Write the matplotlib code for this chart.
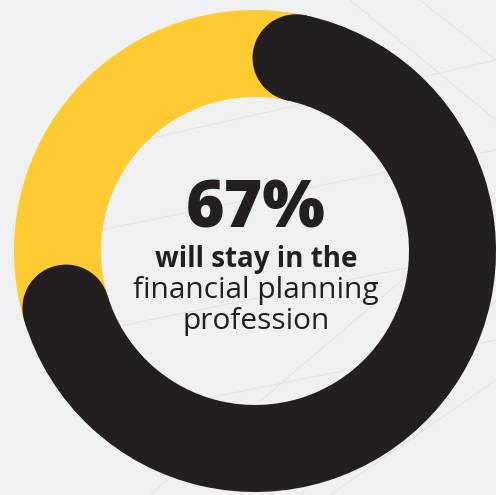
import matplotlib
matplotlib.use("Agg")
import matplotlib.pyplot as plt
from matplotlib.patches import Circle
import numpy as np

# ---- data ----
labels = ["will stay", "other"]
shares = [67, 33]
headline = "67%"
line_bold = "will stay in the"
line_regular = ["financial planning", "profession"]

# ---- style ----
BG = "#eff0f1"
BLACK = "#231f20"
YELLOW = "#fecb33"

W, H = 496, 495
fig = plt.figure(figsize=(W / 100, H / 100), dpi=100, facecolor=BG)
ax = fig.add_axes([0, 0, 1, 1])
ax.set_facecolor(BG)

# faint background lines
for (x0, y0, x1, y1) in [(300, 495, 496, 300), (330, 495, 496, 380), (100, 150, 496, 60),
                         (100, 230, 496, 150), (100, 330, 496, 250), (100, 420, 496, 340),
                         (350, 0, 496, 120), (420, 0, 496, 60), (150, 495, 496, 200)]:
    ax.plot([x0, x1], [H - y0, H - y1], color="#e2e4e7", lw=0.8, zorder=0)

cx, cy = 255, H - 251
R_out, R_in = 241, 154
width = R_out - R_in
start = 90 - 12  # math angle where black arc begins

wedges, _ = ax.pie(shares, colors=[BLACK, YELLOW], startangle=start, counterclock=False,
                   radius=R_out, center=(cx, cy),
                   wedgeprops=dict(width=width, linewidth=0), frame=True)
wedges[0].set_zorder(3)
wedges[1].set_zorder(2)

span = 360 * shares[0] / sum(shares)
r_mid = (R_out + R_in) / 2
for ang in (start, start - span):
    a = np.deg2rad(ang)
    ax.add_patch(Circle((cx + r_mid * np.cos(a), cy + r_mid * np.sin(a)), width / 2,
                        facecolor=BLACK, edgecolor="none", zorder=4))

ax.set_xlim(0, W)
ax.set_ylim(0, H)
ax.set_aspect("equal")
ax.axis("off")

font = "Open Sans"
ax.text(256, H - 228, headline, ha="center", va="baseline", fontsize=47.5,
        fontweight="heavy", color=BLACK, family=font, zorder=5)
ax.text(256.5, H - 267, line_bold, ha="center", va="baseline", fontsize=20,
        fontweight="bold", color=BLACK, family=font, zorder=5)
ax.text(256, H - 298, line_regular[0], ha="center", va="baseline", fontsize=21.5,
        fontweight="normal", color=BLACK, family=font, zorder=5)
ax.text(256.5, H - 329, line_regular[1], ha="center", va="baseline", fontsize=21.5,
        fontweight="normal", color=BLACK, family=font, zorder=5)

fig.savefig("out.png", dpi=100, facecolor=BG)
